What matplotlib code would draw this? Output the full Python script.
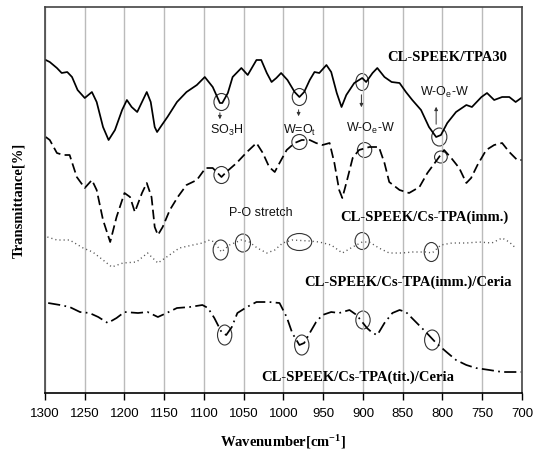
import matplotlib
matplotlib.use("Agg")
import matplotlib.pyplot as plt
from matplotlib.patches import Ellipse

# wavenumber [cm-1] and transmittance (arbitrary units, offset traces)
tpa30_wn = [1299, 1294, 1285, 1279, 1272, 1266, 1259, 1250, 1241, 1235, 1227, 1220, 1212,
            1203, 1197, 1191, 1184, 1178, 1172, 1167, 1162, 1159, 1153, 1146, 1134, 1122,
            1109, 1099, 1089, 1080, 1077, 1070, 1064, 1053, 1045, 1034, 1028, 1021, 1015,
            1009, 1003, 995, 986, 980, 974, 967, 961, 955, 946, 940, 933, 927, 921, 911,
            901, 896, 888, 882, 873, 864, 854, 846, 838, 827, 817, 808, 802, 794, 783,
            770, 763, 751, 744, 735, 725, 716, 708, 701]
tpa30_t = [333, 331, 325, 320, 321, 316, 303, 295, 301, 291, 266, 253, 263,
           283, 293, 286, 281, 291, 301, 291, 266, 261, 268, 276, 291, 301,
           308, 316, 306, 290, 290, 300, 316, 325, 318, 333, 333, 320, 311,
           315, 320, 313, 301, 296, 301, 313, 321, 320, 328, 321, 300, 286, 298, 310,
           315, 311, 320, 325, 316, 311, 310, 301, 293, 283, 266, 256, 258, 270, 281,
           288, 286, 296, 300, 293, 296, 296, 291, 295]

imm_wn = [1299, 1294, 1285, 1277, 1269, 1260, 1250, 1241, 1235, 1227, 1218, 1210, 1200,
          1193, 1187, 1178, 1172, 1166, 1162, 1158, 1152, 1143, 1133, 1122, 1109, 1098,
          1089, 1078, 1072, 1059, 1046, 1034, 1026, 1018, 1011, 1005, 996, 986, 977,
          967, 959, 951, 942, 936, 930, 926, 920, 913, 905, 892, 880, 873, 867, 854,
          842, 829, 819, 807, 798, 789, 779, 770, 764, 756, 745, 735, 725, 716, 706, 700]
imm_t = [256, 253, 240, 238, 238, 216, 205, 213, 203, 173, 151, 176, 200,
         196, 181, 200, 210, 196, 166, 158, 166, 183, 196, 208, 213, 225,
         225, 216, 221, 230, 241, 250, 240, 226, 221, 230, 243, 250, 253,
         253, 250, 248, 250, 230, 203, 195, 213, 235, 243, 246, 246, 230, 211, 203,
         200, 206, 220, 233, 243, 235, 225, 210, 215, 228, 243, 248, 250, 241, 233, 233]

ceria_wn = [1297, 1285, 1269, 1252, 1240, 1227, 1216, 1202, 1185, 1171, 1158, 1147, 1131,
            1114, 1102, 1093, 1087, 1078, 1068, 1053, 1043, 1033, 1021, 1011, 1001, 989,
            967, 955, 940, 926, 913, 901, 892, 880, 867, 851, 838, 821, 813, 802, 788,
            770, 754, 738, 725, 716, 708]
ceria_t = [156, 153, 153, 145, 141, 133, 126, 130, 131, 140, 130, 136, 145,
           148, 150, 153, 151, 141, 148, 153, 151, 145, 140, 143, 150, 153,
           152, 151, 148, 140, 146, 151, 151, 145, 140, 140, 141, 141, 140, 148, 150,
           150, 151, 150, 155, 151, 145]

tit_wn = [1296, 1281, 1269, 1256, 1244, 1233, 1221, 1210, 1200, 1183, 1171, 1158, 1147,
          1134, 1118, 1102, 1095, 1087, 1078, 1072, 1065, 1058, 1046, 1034, 1018, 1005,
          996, 989, 980, 974, 967, 959, 951, 940, 930, 917, 908, 901, 895, 888, 882,
          873, 863, 854, 846, 836, 821, 808, 795, 783, 770, 758, 741, 725, 713, 701]
tit_t = [90, 88, 86, 81, 80, 76, 70, 75, 81, 80, 81, 76, 80,
         85, 86, 88, 85, 75, 61, 58, 66, 80, 86, 91, 91, 90,
         76, 60, 48, 50, 60, 71, 78, 81, 80, 83, 78, 71, 65, 60, 58,
         70, 80, 83, 81, 73, 61, 50, 41, 33, 28, 25, 23, 21, 21, 21]

# marked bands: (wavenumber, transmittance, width [cm-1], height)
circles = [
    (1078, 291, 19, 17), (980, 296, 18, 17), (901, 311, 16, 17), (804, 256, 19, 18),
    (1078, 218, 19, 17), (980, 251, 19, 15), (898, 243, 18, 15), (802, 236, 16, 12),
    (1079, 143, 19, 20), (1051, 150, 19, 18), (980, 151, 31, 17), (901, 152, 18, 17),
    (814, 141, 18, 19),
    (1074, 58, 18, 20), (977, 48, 18, 20), (900, 73, 18, 18), (813, 53, 19, 20),
]

serif = "Liberation Serif"
sans = "Liberation Sans"

plt.rcParams["mathtext.fontset"] = "custom"
plt.rcParams["mathtext.rm"] = sans
plt.rcParams["mathtext.it"] = sans
plt.rcParams["mathtext.bf"] = serif + ":bold"

fig = plt.figure(figsize=(5.35, 4.58), dpi=100)
ax = fig.add_axes([0.0841, 0.1419, 0.8916, 0.8428])

ax.plot(tpa30_wn, tpa30_t, color="black", lw=1.25)
ax.plot(imm_wn, imm_t, color="black", lw=1.25, linestyle=(0, (5.5, 2.5)))
ax.plot(ceria_wn, ceria_t, color="#555555", lw=1.0, linestyle=(0, (0.8, 2.2)))
ax.plot(tit_wn, tit_t, color="black", lw=1.25, linestyle=(0, (7, 2.5, 1, 2.5)))

for x, y, w, h in circles:
    ax.add_patch(Ellipse((x, y), w, h, fill=False, edgecolor="#333333", lw=0.8))

arrow = dict(arrowstyle="-|>", color="#333333", lw=0.7, mutation_scale=5)
ax.annotate("", xy=(1080, 271), xytext=(1080, 283), arrowprops=arrow)
ax.annotate("", xy=(981, 274), xytext=(981, 286), arrowprops=arrow)
ax.annotate("", xy=(902, 283), xytext=(902, 301), arrowprops=arrow)
ax.annotate("", xy=(808, 289), xytext=(808, 266), arrowprops=arrow)

small = dict(family=sans, fontsize=9, ha="center", va="center", color="#111111")
ax.text(1072, 263, "SO$_3$H", **small)
ax.text(980, 263, "W=O$_t$", **small)
ax.text(890, 265, "W-O$_e$-W", **small)
ax.text(798, 301, "W-O$_e$-W", **small)
ax.text(1028, 180, "P-O stretch", **small)

big = dict(family=serif, fontsize=10.5, fontweight="bold", ha="center", va="center")
ax.text(794, 336, "CL-SPEEK/TPA30", **big)
ax.text(823, 176, "CL-SPEEK/Cs-TPA(imm.)", **big)
ax.text(843, 111, "CL-SPEEK/Cs-TPA(imm.)/Ceria", **big)
ax.text(907, 16, "CL-SPEEK/Cs-TPA(tit.)/Ceria", **big)

ax.set_xlim(1300, 700)
ax.set_ylim(0, 386)
ax.set_xticks(range(1300, 699, -50))
ax.set_yticks([])
for tick in ax.get_xticklabels():
    tick.set_fontfamily(sans)
    tick.set_fontsize(9.5)
ax.tick_params(axis="x", direction="out", length=5, width=1, pad=6)
ax.grid(axis="x", color="#bbbbbb", lw=1)
for side in ["left", "top", "right"]:
    ax.spines[side].set_color("#444444")
    ax.spines[side].set_linewidth(1.2)
ax.spines["bottom"].set_linewidth(1.2)

ax.set_xlabel("Wavenumber[cm$^{\\mathbf{-1}}$]", family=serif, fontweight="bold",
              fontsize=10.5, labelpad=9)
ax.set_ylabel("Transmittance[%]", family=serif, fontweight="bold", fontsize=10.5, labelpad=14)

fig.savefig("out.png", dpi=100)
